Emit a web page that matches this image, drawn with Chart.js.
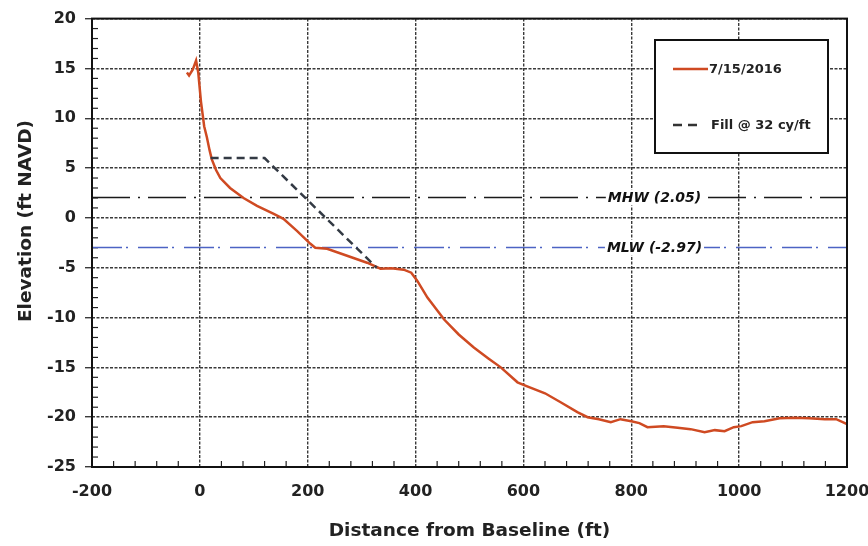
<!DOCTYPE html>
<html>
<head>
<meta charset="utf-8">
<script src="https://cdn.jsdelivr.net/npm/chart.js@4"></script>
<style>
  html, body { margin: 0; padding: 0; background: #fff; }
  #wrap { width: 868px; height: 546px; }
</style>
</head>
<body>
<div id="wrap"><canvas id="profile"></canvas></div>
<script>
// survey profile 7/15/2016
var profileX = [-24, -20, -13, -7, -3, 2, 8, 13, 18, 22, 30, 38, 56, 81, 106, 137, 155, 180, 205, 214, 236, 273, 310, 335, 355, 378, 392, 403, 422, 453, 480, 508, 535, 558, 589, 607, 640, 669, 700, 719, 740, 762, 780, 800, 815, 830, 860, 886, 910, 936, 955, 973, 990, 1004, 1025, 1047, 1075, 1103, 1130, 1159, 1180, 1196, 1200];
var profileY = [14.6, 14.3, 14.9, 15.8, 14.6, 11.7, 9.2, 8.1, 6.8, 5.9, 4.8, 4.0, 3.0, 2.0, 1.2, 0.4, -0.1, -1.3, -2.6, -3.0, -3.1, -3.8, -4.5, -5.1, -5.05, -5.2, -5.5, -6.3, -8.0, -10.2, -11.7, -13.0, -14.1, -15.0, -16.5, -16.9, -17.6, -18.5, -19.5, -20.0, -20.2, -20.5, -20.2, -20.4, -20.6, -21.0, -20.9, -21.05, -21.2, -21.5, -21.3, -21.4, -21.0, -20.9, -20.5, -20.4, -20.1, -20.05, -20.1, -20.2, -20.2, -20.6, -20.7];

// design fill template
var fillX = [20, 120, 328];
var fillY = [6, 6, -5];

// tidal datums
var mhw = 2.05;
var mlw = -2.97;
var datumX = [-200, 1200];

var xTicks = [-200, 0, 200, 400, 600, 800, 1000, 1200];
var yTicks = [-25, -20, -15, -10, -5, 0, 5, 10, 15, 20];

function pts(xs, ys) {
  var out = [];
  for (var i = 0; i < xs.length; i++) out.push({x: xs[i], y: ys[i]});
  return out;
}
function flat(xs, v) {
  return xs.map(function (x) { return {x: x, y: v}; });
}

var FONT = '"DejaVu Sans", Verdana, sans-serif';

var extras = {
  id: 'extras',
  beforeDatasetsDraw: function (chart) {
    var c = chart.ctx, a = chart.chartArea;
    var xs = chart.scales.x, ys = chart.scales.y;
    c.save();
    c.strokeStyle = '#222';
    c.lineWidth = 1.2;
    // minor ticks, inside the frame
    for (var v = -25; v <= 20; v++) {
      if (v % 5 === 0) continue;
      var py = ys.getPixelForValue(v);
      c.beginPath(); c.moveTo(a.left, py); c.lineTo(a.left + 6, py); c.stroke();
    }
    for (var u = -200; u <= 1200; u += 40) {
      if (u % 200 === 0) continue;
      var px = xs.getPixelForValue(u);
      c.beginPath(); c.moveTo(px, a.bottom); c.lineTo(px, a.bottom - 6); c.stroke();
    }
    // y title, sits a bit above centre like the original
    c.translate(26, 221);
    c.rotate(-Math.PI / 2);
    c.fillStyle = '#222';
    c.font = 'bold 18.5px ' + FONT;
    c.textAlign = 'center';
    c.textBaseline = 'middle';
    c.fillText('Elevation (ft NAVD)', 0, 0);
    c.restore();
  },
  afterDatasetsDraw: function (chart) {
    var c = chart.ctx, a = chart.chartArea;
    var xs = chart.scales.x, ys = chart.scales.y;
    c.save();
    // datum labels
    c.font = 'italic bold 14px ' + FONT;
    c.textAlign = 'center';
    c.textBaseline = 'middle';
    var lx = xs.getPixelForValue(843);
    [['MHW (2.05)', mhw], ['MLW (-2.97)', mlw]].forEach(function (d) {
      var py = ys.getPixelForValue(d[1]);
      var w = c.measureText(d[0]).width;
      c.fillStyle = '#fff';
      c.fillRect(lx - w / 2 - 2, py - 8, w + 4, 16);
      c.fillStyle = '#111';
      c.fillText(d[0], lx, py + 1);
    });
    // frame
    c.strokeStyle = '#111';
    c.lineWidth = 2;
    c.strokeRect(a.left, a.top, a.right - a.left, a.bottom - a.top);
    // legend box
    var bx = 655, by = 40, bw = 173, bh = 113;
    c.fillStyle = '#fff';
    c.fillRect(bx, by, bw, bh);
    c.strokeRect(bx, by, bw, bh);
    var l1 = chart.data.datasets[0], l2 = chart.data.datasets[1];
    c.lineWidth = 2.5;
    c.strokeStyle = l1.borderColor;
    c.beginPath(); c.moveTo(673, 69); c.lineTo(708, 69); c.stroke();
    c.strokeStyle = '#333';
    c.setLineDash([9, 6]);
    c.beginPath(); c.moveTo(673, 125); c.lineTo(700, 125); c.stroke();
    c.setLineDash([]);
    c.fillStyle = '#222';
    c.font = 'bold 13px ' + FONT;
    c.textAlign = 'left';
    c.fillText(l1.label, 709, 70);
    c.fillText(l2.label, 711, 126);
    c.restore();
  }
};

new Chart(document.getElementById('profile').getContext('2d'), {
  type: 'scatter',
  data: {
    datasets: [
      {
        label: '7/15/2016',
        data: pts(profileX, profileY),
        showLine: true,
        borderColor: '#cf4a22',
        borderWidth: 2.5,
        pointRadius: 0,
        tension: 0,
        order: 1
      },
      {
        label: 'Fill @ 32 cy/ft',
        data: pts(fillX, fillY),
        showLine: true,
        borderColor: '#333a44',
        borderWidth: 2.5,
        borderDash: [8, 5],
        pointRadius: 0,
        order: 0
      },
      {
        label: 'MHW',
        data: flat(datumX, mhw),
        showLine: true,
        borderColor: '#1a1a1a',
        borderWidth: 1.5,
        borderDash: [38, 8, 2, 8],
        pointRadius: 0,
        order: 2
      },
      {
        label: 'MLW',
        data: flat(datumX, mlw),
        showLine: true,
        borderColor: '#4d63c4',
        borderWidth: 1.5,
        borderDash: [30, 4, 2, 10],
        pointRadius: 0,
        order: 2
      }
    ]
  },
  options: {
    responsive: true,
    maintainAspectRatio: false,
    animation: false,
    layout: { padding: { top: 17, right: 0, left: 0, bottom: 0 } },
    plugins: {
      legend: { display: false },
      tooltip: { enabled: false }
    },
    scales: {
      x: {
        type: 'linear',
        min: -200,
        max: 1200,
        afterBuildTicks: function (s) { s.ticks = xTicks.map(function (v) { return {value: v}; }); },
        afterFit: function (s) { s.height = 79; s.paddingRight = 21; s.paddingLeft = 0; },
        grid: { color: '#3a3a3a', lineWidth: 1.4, tickLength: 0, drawTicks: false },
        border: { display: false, dash: [3, 1.5] },
        ticks: {
          color: '#222', padding: 15, maxRotation: 0,
          font: { family: FONT, size: 16, weight: 'bold' },
          callback: function (v) { return String(v); }
        },
        title: { display: true, text: 'Distance from Baseline (ft)', color: '#222', padding: { top: 8 }, font: { family: FONT, size: 18.5, weight: 'bold' } }
      },
      y: {
        type: 'linear',
        min: -25,
        max: 20,
        afterBuildTicks: function (s) { s.ticks = yTicks.map(function (v) { return {value: v}; }); },
        afterFit: function (s) { s.width = 92; },
        grid: { color: '#3a3a3a', lineWidth: 1.4, tickLength: 7 },
        border: { display: false, dash: [3, 1.5] },
        ticks: {
          color: '#222', padding: 9,
          font: { family: FONT, size: 16, weight: 'bold' },
          callback: function (v) { return String(v); }
        },
        title: { display: false }
      }
    }
  },
  plugins: [extras]
});
</script>
</body>
</html>
